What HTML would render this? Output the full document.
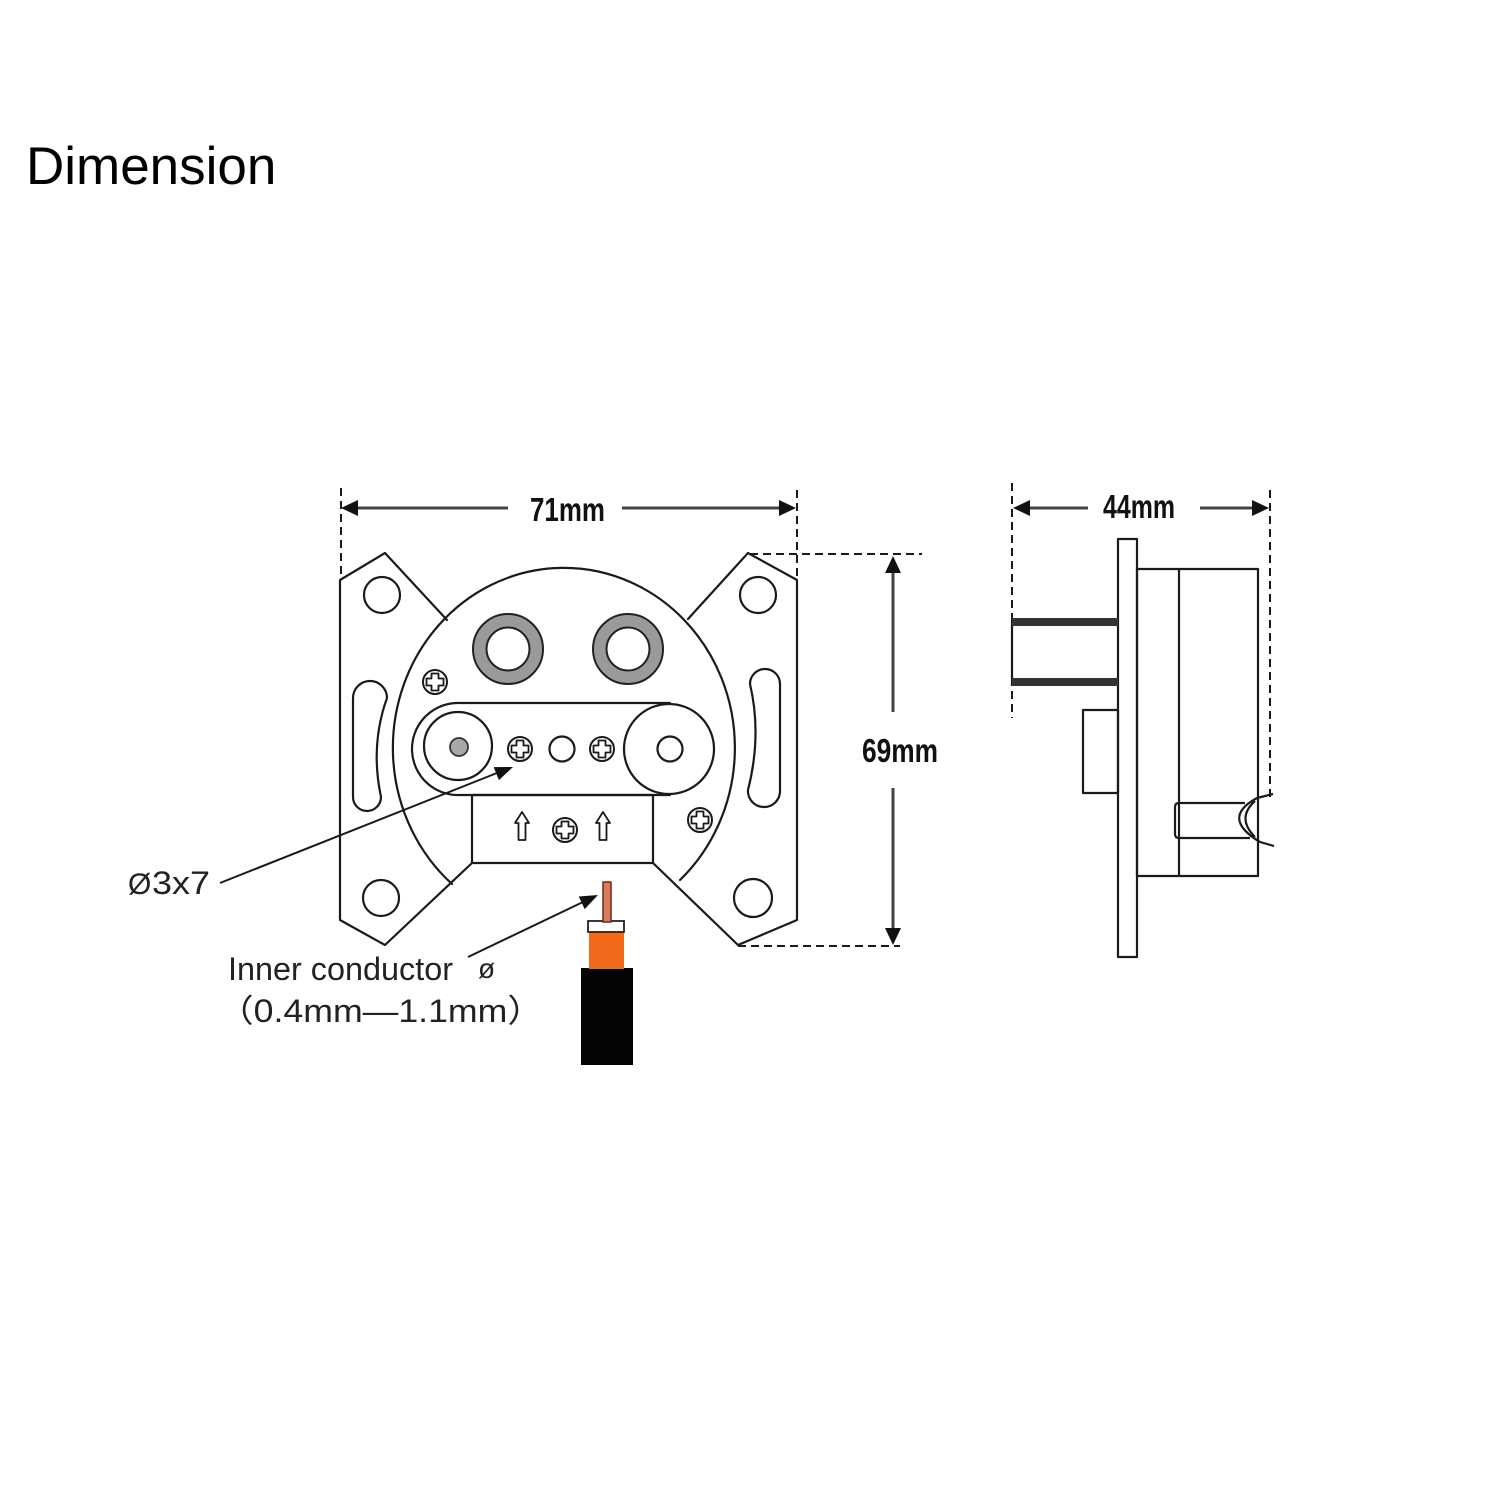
<!DOCTYPE html>
<html>
<head>
<meta charset="utf-8">
<style>
  html, body { margin: 0; padding: 0; background: #ffffff; }
  body { width: 1500px; height: 1500px; overflow: hidden; }
  svg { display: block; }
  text { font-family: "Liberation Sans", "DejaVu Sans", "Noto Sans CJK SC", sans-serif; }
</style>
</head>
<body>
<svg width="1500" height="1500" viewBox="0 0 1500 1500" xmlns="http://www.w3.org/2000/svg">
  <rect x="0" y="0" width="1500" height="1500" fill="#ffffff"/>

  <!-- Title -->
  <text x="26" y="184" font-size="53" fill="#000">Dimension</text>

  <!-- ===== FRONT VIEW ===== -->
  <g fill="none" stroke="#1a1a1a" stroke-width="2.2" stroke-linejoin="round" stroke-linecap="round">
    <polyline points="447,620 385,553 340,580 340,920 385,945 472,863"/>
    <polyline points="688,619 748,553 797,580 797,920 738,945 653,863"/>
    <path d="M 452,884 A 171 180 0 1 1 680,880"/>
    <rect x="472" y="795" width="181" height="68"/>
    <path d="M 456,703 L 670,703"/>
    <path d="M 460,795 L 670,795"/>
    <path d="M 456,703 A 46 46 0 0 0 460,795"/>
    <circle cx="669" cy="749" r="45"/>
    <circle cx="670" cy="749" r="12.5"/>
    <circle cx="458" cy="746" r="34"/>
    <circle cx="562" cy="749" r="12.5"/>
    <circle cx="382" cy="595" r="18"/>
    <circle cx="758" cy="595" r="18"/>
    <circle cx="381" cy="898" r="18"/>
    <circle cx="753" cy="898" r="19"/>
    <path d="M 353,698 A 17 17 0 0 1 387,698 Q 370,745 381,797 A 14 14 0 0 1 353,797 Z"/>
    <path d="M 780,684 A 15 15 0 0 0 750,684 Q 762,735 748,790 A 16 16 0 0 0 780,792 Z"/>
  </g>

  <circle cx="459" cy="747" r="9" fill="#a8a8a8" stroke="#333" stroke-width="1.8"/>

  <g stroke="#222" stroke-width="2">
    <circle cx="508" cy="649" r="28" fill="none" stroke="#9a9a9a" stroke-width="13"/>
    <circle cx="508" cy="649" r="35" fill="none"/>
    <circle cx="508" cy="649" r="21.5" fill="#fff"/>
    <circle cx="628" cy="649" r="28" fill="none" stroke="#9a9a9a" stroke-width="13"/>
    <circle cx="628" cy="649" r="35" fill="none"/>
    <circle cx="628" cy="649" r="21.5" fill="#fff"/>
  </g>

  <defs>
    <g id="screw">
      <circle cx="0" cy="0" r="12" fill="#fff" stroke="#1a1a1a" stroke-width="2"/>
      <polygon points="-3.5,-8.5 3.5,-8.5 3.5,-3.5 8.5,-3.5 8.5,3.5 3.5,3.5 3.5,8.5 -3.5,8.5 -3.5,3.5 -8.5,3.5 -8.5,-3.5 -3.5,-3.5" fill="#fff" stroke="#1a1a1a" stroke-width="1.8" stroke-linejoin="round"/>
    </g>
    <g id="uparrow">
      <polygon points="0,-14 7,-3 3.5,-3 3.5,14 -3.5,14 -3.5,-3 -7,-3" fill="#fff" stroke="#1a1a1a" stroke-width="1.8" stroke-linejoin="round"/>
    </g>
  </defs>
  <use href="#screw" x="520" y="749"/>
  <use href="#screw" x="602" y="749"/>
  <use href="#screw" x="435" y="682"/>
  <use href="#screw" x="700" y="820"/>
  <use href="#screw" x="565" y="830"/>
  <use href="#uparrow" x="522" y="826"/>
  <use href="#uparrow" x="603" y="826"/>

  <!-- ===== DIMENSIONS ===== -->
  <g fill="none" stroke="#1a1a1a" stroke-width="2" stroke-dasharray="8 5">
    <line x1="341" y1="488" x2="341" y2="578"/>
    <line x1="797" y1="490" x2="797" y2="580"/>
    <line x1="750" y1="554" x2="922" y2="554"/>
    <line x1="738" y1="946" x2="900" y2="946"/>
    <line x1="1012" y1="483" x2="1012" y2="718"/>
    <line x1="1270" y1="490" x2="1270" y2="800"/>
  </g>
  <g stroke="#444" stroke-width="3" fill="none">
    <line x1="355" y1="508" x2="508" y2="508"/>
    <line x1="622" y1="508" x2="782" y2="508"/>
    <line x1="893" y1="570" x2="893" y2="712"/>
    <line x1="893" y1="788" x2="893" y2="931"/>
    <line x1="1028" y1="508" x2="1088" y2="508"/>
    <line x1="1200" y1="508" x2="1255" y2="508"/>
  </g>
  <g fill="#111">
    <polygon points="341,508 358,500 358,516"/>
    <polygon points="796,508 779,500 779,516"/>
    <polygon points="893,556 885,573 901,573"/>
    <polygon points="893,945 885,928 901,928"/>
    <polygon points="1013,508 1030,500 1030,516"/>
    <polygon points="1269,508 1252,500 1252,516"/>
  </g>
  <g font-weight="bold" font-size="33" fill="#111">
    <text x="530" y="521" textLength="75" lengthAdjust="spacingAndGlyphs">71mm</text>
    <text x="862" y="762" textLength="76" lengthAdjust="spacingAndGlyphs">69mm</text>
    <text x="1103" y="518" textLength="72" lengthAdjust="spacingAndGlyphs">44mm</text>
  </g>

  <!-- ===== SIDE VIEW ===== -->
  <g fill="none" stroke="#1a1a1a" stroke-width="2.2" stroke-linejoin="round">
    <rect x="1118" y="539" width="19" height="418"/>
    <rect x="1137" y="569" width="121" height="307"/>
    <line x1="1179" y1="569" x2="1179" y2="876"/>
    <line x1="1012" y1="619" x2="1012" y2="686"/>
    <rect x="1083" y="710" width="35" height="83"/>
    <path d="M 1245,803 L 1179,803 Q 1175,803 1175,807 L 1175,834 Q 1175,838 1179,838 L 1250,838"/>
    <path d="M 1257,798 Q 1220,818 1260,842"/>
    <path d="M 1255,801 Q 1236,818 1255,837"/>
    <path d="M 1257,798 L 1273,794"/>
    <path d="M 1260,842 L 1274,846"/>
  </g>
  <rect x="1012" y="618" width="106" height="8" fill="#333"/>
  <rect x="1012" y="678" width="106" height="8" fill="#333"/>

  <!-- ===== CALLOUTS ===== -->
  <g stroke="#1a1a1a" stroke-width="2" fill="none">
    <line x1="220" y1="883" x2="497" y2="773"/>
    <line x1="468" y1="957" x2="583" y2="902"/>
  </g>
  <g fill="#111">
    <polygon points="513,767 498.9,780.1 493.7,767.1"/>
    <polygon points="598,895 584.7,909.1 578.7,896.5"/>
  </g>

  <text x="128" y="894" font-size="30" fill="#222">Ø</text>
  <text x="152" y="894" font-size="32" fill="#222" textLength="58" lengthAdjust="spacingAndGlyphs">3x7</text>
  <text x="228" y="980" font-size="32" fill="#222" textLength="225" lengthAdjust="spacingAndGlyphs">Inner conductor</text>
  <text x="478" y="978" font-size="28" fill="#222">ø</text>
  <text x="218" y="1022" font-size="32" fill="#222" textLength="325" lengthAdjust="spacingAndGlyphs">（0.4mm—1.1mm）</text>

  <!-- cable -->
  <rect x="581" y="968" width="52" height="97" fill="#050505"/>
  <rect x="589" y="931" width="35" height="38" fill="#f26a1b"/>
  <rect x="588" y="921" width="36" height="11" fill="#fff" stroke="#222" stroke-width="1.8"/>
  <rect x="603" y="882" width="8" height="40" fill="#d97a5a" stroke="#6a2a1a" stroke-width="1.5"/>
</svg>
</body>
</html>
